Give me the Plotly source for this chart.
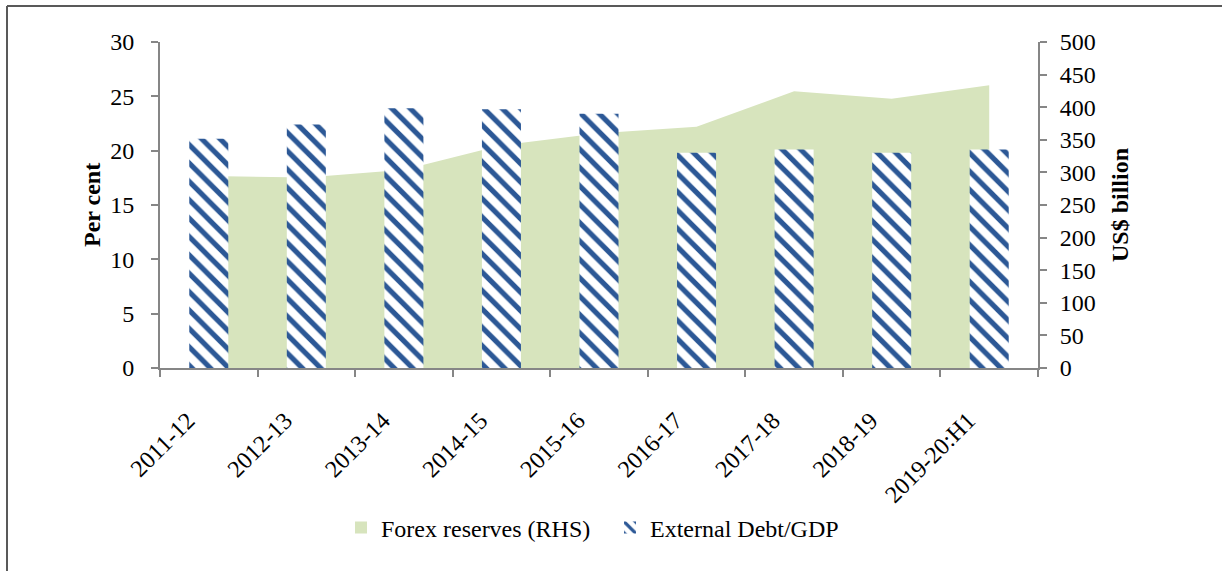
import plotly.graph_objects as go

# Financial years on the category axis
years = ["2011-12", "2012-13", "2013-14", "2014-15", "2015-16",
         "2016-17", "2017-18", "2018-19", "2019-20:H1"]

# Foreign exchange reserves, US$ billion (right axis)
forex_reserves = [294.4, 292.0, 304.2, 341.6, 360.2, 370.0, 424.5, 412.9, 433.7]

# External debt as a share of GDP, per cent (left axis)
external_debt_gdp = [21.1, 22.4, 23.9, 23.8, 23.4, 19.8, 20.1, 19.8, 20.1]

GREEN = "#D7E4BD"
BLUE = "#2C5896"
AXIS_GREY = "#868686"
FONT = "Liberation Serif"

# plot-area geometry in pixels
W, H = 1222, 571
L, R, T, B = 160, 184, 42, 203
pw = W - L - R
ph = H - T - B


def px_x(p):
    return (p - L) / pw


def px_y(p):
    return (H - B - p) / ph


fig = go.Figure()

# shaded reserves area, drawn on the base subplot so the bars sit above it
fig.add_trace(go.Scatter(
    x=years, y=forex_reserves, yaxis="y",
    mode="lines", line=dict(width=0, color=GREEN),
    fill="tozeroy", fillcolor=GREEN,
    showlegend=False, hoverinfo="x+y",
))

# legend entry for the reserves area (square swatch)
fig.add_trace(go.Bar(
    x=[None], y=[None], yaxis="y", name="Forex reserves (RHS)",
    marker=dict(color=GREEN, line=dict(width=0)),
))

# hatched debt/GDP bars
fig.add_trace(go.Bar(
    x=years, y=external_debt_gdp, yaxis="y2", name="External Debt/GDP",
    width=0.4,
    marker=dict(
        color="white",
        line=dict(width=0),
        pattern=dict(shape="\\", fgcolor=BLUE, bgcolor="white", fgopacity=1,
                     size=13, solidity=0.4, fillmode="replace"),
    ),
))

tick_font = dict(family=FONT, size=24, color="black")

fig.update_layout(
    width=W, height=H,
    margin=dict(l=L, r=R, t=T, b=B, autoexpand=False),
    paper_bgcolor="white", plot_bgcolor="white",
    barmode="overlay",
    font=dict(family=FONT, size=24, color="black"),
    xaxis=dict(
        type="category", range=[-0.5, 8.5],
        showline=True, linecolor=AXIS_GREY, linewidth=2,
        ticks="outside", tickson="boundaries", ticklen=7,
        tickcolor=AXIS_GREY, tickwidth=2,
        tickangle=-45, tickfont=tick_font, showgrid=False,
        ticklabelstandoff=27, ticklabelshift=-21,
    ),
    yaxis=dict(
        side="right", range=[0, 500], dtick=50,
        showline=True, linecolor=AXIS_GREY, linewidth=2,
        ticks="outside", ticklen=7, tickcolor=AXIS_GREY, tickwidth=2,
        tickfont=tick_font, showgrid=False, zeroline=False,
        ticklabelstandoff=8,
    ),
    yaxis2=dict(
        side="left", overlaying="y", range=[0, 30], dtick=5,
        showline=True, linecolor=AXIS_GREY, linewidth=2,
        ticks="outside", ticklen=7, tickcolor=AXIS_GREY, tickwidth=2,
        tickfont=tick_font, showgrid=False, zeroline=False,
        ticklabelstandoff=12,
    ),
    legend=dict(
        orientation="h", x=px_x(610), xanchor="center",
        y=px_y(528), yanchor="middle",
        font=dict(family=FONT, size=24, color="black"),
        bgcolor="rgba(0,0,0,0)", itemwidth=30,
        entrywidth=224, entrywidthmode="pixels",
    ),
    annotations=[
        dict(text="<b>Per cent</b>", textangle=-90, showarrow=False,
             xref="paper", yref="paper", x=px_x(92), y=0.5,
             xanchor="center", yanchor="middle",
             font=dict(family=FONT, size=24, color="black")),
        dict(text="<b>US$ billion</b>", textangle=-90, showarrow=False,
             xref="paper", yref="paper", x=px_x(1120), y=0.5,
             xanchor="center", yanchor="middle",
             font=dict(family=FONT, size=24, color="black")),
    ],
    shapes=[
        dict(type="line", xref="paper", yref="paper",
             x0=px_x(7), x1=px_x(W), y0=px_y(6), y1=px_y(6),
             line=dict(color="#595959", width=2)),
        dict(type="line", xref="paper", yref="paper",
             x0=px_x(7), x1=px_x(7), y0=px_y(6), y1=px_y(H),
             line=dict(color="#595959", width=2)),
    ],
)

fig.write_html("out.html")
